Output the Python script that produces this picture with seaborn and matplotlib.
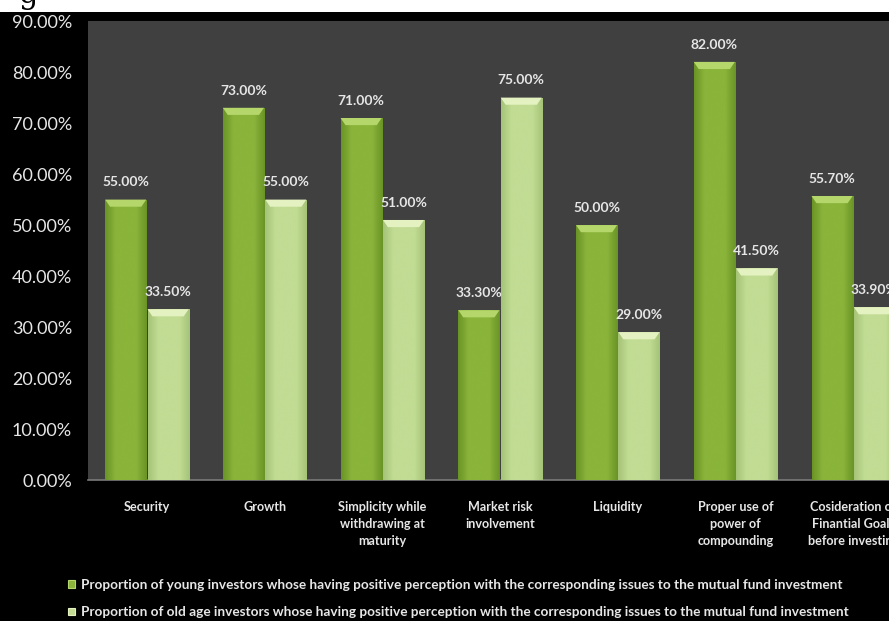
import numpy as np
import pandas as pd
import matplotlib
matplotlib.use("Agg")
import matplotlib.pyplot as plt
from matplotlib.colors import LinearSegmentedColormap
from matplotlib.patches import Patch, Polygon, Rectangle
import seaborn as sns

# ---- data -------------------------------------------------------------
issues = [
    "Security",
    "Growth",
    "Simplicity while\nwithdrawing at\nmaturity",
    "Market risk\ninvolvement",
    "Liquidity",
    "Proper use of\npower of\ncompounding",
    "Cosideration of\nFinantial Goals\nbefore investing",
]
young_pct = [55.0, 73.0, 71.0, 33.3, 50.0, 82.0, 55.7]
old_pct = [33.5, 55.0, 51.0, 75.0, 29.0, 41.5, 33.9]
series_names = [
    "Proportion of young investors whose having positive perception with the corresponding issues to the mutual fund investment",
    "Proportion of old age investors whose having positive perception with the corresponding issues to the mutual fund investment",
]
y_ticks = [0, 10, 20, 30, 40, 50, 60, 70, 80, 90]

df = pd.DataFrame({
    "issue": issues * 2,
    "pct": young_pct + old_pct,
    "group": [series_names[0]] * len(issues) + [series_names[1]] * len(issues),
})

# ---- styling ----------------------------------------------------------
sns.set_style("dark")
plt.rcParams["font.family"] = ["Lato", "DejaVu Sans"]

base_cols = ["#8ab43a", "#c2dc94"]
edge_cols = ["#6a9426", "#a5c478"]
cap_cols = ["#b4d66a", "#e4f1c0"]
txt_col = "#e6e6e6"

fig = plt.figure(figsize=(8.89, 6.21), dpi=100, facecolor="black")
ax = fig.add_axes([0.099, 0.227, 0.927, 0.739])
ax.set_facecolor("#404040")

sns.barplot(
    data=df, x="issue", y="pct", hue="group", order=issues,
    hue_order=series_names, palette=base_cols, width=0.72, gap=0.03,
    saturation=1, ax=ax, legend=False, edgecolor="none", zorder=2,
)

ax.set_ylim(0, 90)
ax.set_xlim(-0.5, len(issues) - 0.5)
ax.set_yticks(y_ticks)
ax.set_yticklabels([f"{t:.2f}%" for t in y_ticks], color=txt_col, fontsize=13)
ax.tick_params(axis="y", length=0, pad=11.5)
ax.tick_params(axis="x", length=0, pad=15)
for lab in ax.get_xticklabels():
    lab.set_color(txt_col)
    lab.set_fontsize(9.1)
    lab.set_fontweight("bold")
    lab.set_linespacing(1.5)
    lab.set_verticalalignment("top")
ax.set_xlabel("")
ax.set_ylabel("")
ax.grid(False)
for side in ["top", "right", "left"]:
    ax.spines[side].set_visible(False)
ax.spines["bottom"].set_color("#7a7a7a")
ax.spines["bottom"].set_linewidth(1.2)

# ---- bar shading: darker sides and a bevelled light cap ---------------
bars = [p for p in ax.patches if isinstance(p, Rectangle) and p.get_height() > 0]
n = len(issues)
for i, bar in enumerate(bars):
    k = 0 if i < n else 1
    x0, w, h = bar.get_x(), bar.get_width(), bar.get_height()
    cmap = LinearSegmentedColormap.from_list(
        "shade", [edge_cols[k], base_cols[k], base_cols[k], base_cols[k], edge_cols[k]])
    grad = np.linspace(0, 1, 64).reshape(1, -1)
    im = ax.imshow(grad, extent=[x0, x0 + w, 0, h], aspect="auto", cmap=cmap,
                   zorder=3, interpolation="bicubic")
    im.set_clip_path(bar)
    cap_h = 1.4
    inset = w * 0.12
    ax.add_patch(Polygon(
        [(x0, h), (x0 + w, h), (x0 + w - inset, h - cap_h), (x0 + inset, h - cap_h)],
        closed=True, facecolor=cap_cols[k], edgecolor="none", zorder=4))
    ax.annotate(f"{h:.2f}%", (x0 + w / 2, h), xytext=(0, 8), textcoords="offset points",
                ha="center", va="bottom", color=txt_col, fontsize=10, fontweight="bold",
                zorder=5)

ax.set_xlim(-0.5, len(issues) - 0.5)
ax.set_ylim(0, 90)

# ---- legend below the plot --------------------------------------------
handles = [Patch(facecolor=base_cols[0], edgecolor=cap_cols[0], linewidth=0.8),
           Patch(facecolor=base_cols[1], edgecolor=cap_cols[1], linewidth=0.8)]
fig.legend(handles, series_names, loc="upper left",
           bbox_to_anchor=(0.0765, 0.068), bbox_transform=fig.transFigure,
           frameon=False, handlelength=0.5, handleheight=0.5, handletextpad=0.45,
           labelspacing=1.15, borderaxespad=0, borderpad=0,
           prop={"family": ["Lato", "DejaVu Sans"], "weight": "bold", "size": 9.8},
           labelcolor=txt_col)

# ---- caption remnant along the top edge -------------------------------
fig.patches.append(Rectangle((0, 1 - 12 / 621), 1, 12 / 621, transform=fig.transFigure,
                             facecolor="white", edgecolor="none", zorder=0))
fig.text(18 / 889, 1 - 3 / 621, "g", family="DejaVu Serif", fontsize=22,
         color="black", ha="left", va="baseline")

fig.savefig("out.png", dpi=100, facecolor="black")
